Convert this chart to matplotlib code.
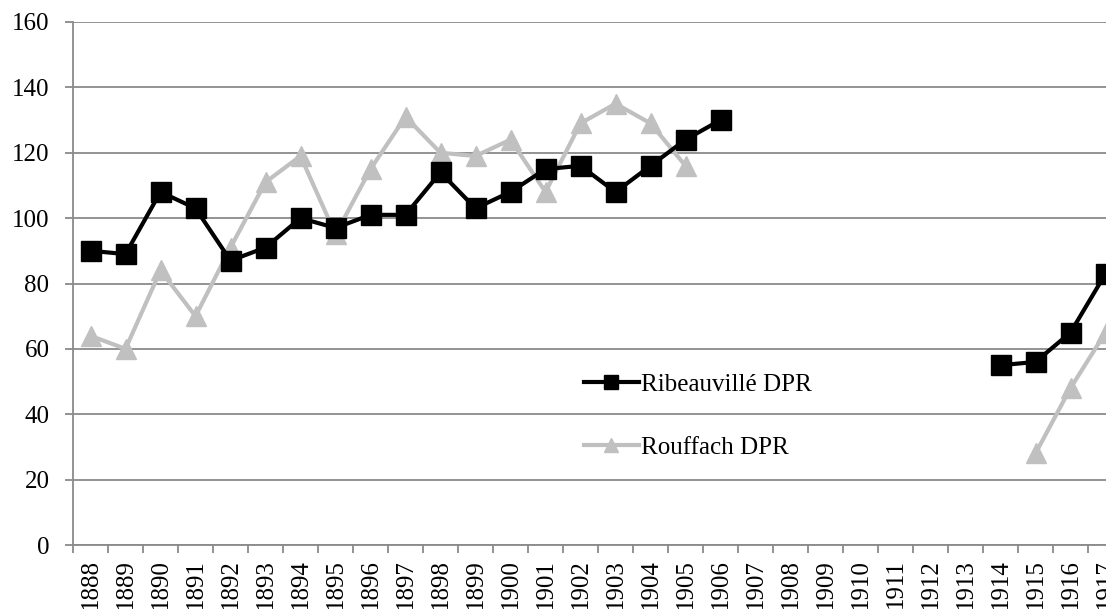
import numpy as np
from matplotlib import pyplot as plt

plt.rcParams['font.family'] = ['Liberation Serif', 'DejaVu Serif']

years = [str(y) for y in range(1888, 1918)]
nan = np.nan

ribeauville = [90, 89, 108, 103, 87, 91, 100, 97, 101, 101,
               114, 103, 108, 115, 116, 108, 116, 124, 130,
               nan, nan, nan, nan, nan, nan, nan,
               55, 56, 65, 83]
rouffach = [64, 60, 84, 70, 91, 111, 119, 95, 115, 131,
            120, 119, 124, 108, 129, 135, 129, 116,
            nan, nan, nan, nan, nan, nan, nan, nan, nan,
            28, 48, 65]

fig = plt.figure(figsize=(11.06, 6.09), dpi=100)
# the plot area runs past the right edge, as in the original
ax = fig.add_axes([73 / 1106, 64 / 609, 1050 / 1106, 523 / 609])

x = np.arange(len(years))
ax.plot(x, ribeauville, color='black', lw=3, marker='s', ms=14,
        label='Ribeauvillé DPR', zorder=3)
ax.plot(x, rouffach, color='#c0c0c0', lw=3, marker='^', ms=14,
        label='Rouffach DPR', zorder=2)

ax.set_xlim(-0.5, len(years) - 0.5)
ax.set_ylim(0, 160)
ax.set_yticks(range(0, 161, 20))
ax.yaxis.grid(True, color='#8a8a8a', lw=1.3)
ax.set_axisbelow(True)

ax.set_xticks(x)
ax.set_xticklabels(years, rotation=90, fontsize=18)
ax.set_xticks(np.arange(-0.5, len(years), 1), minor=True)
ax.tick_params(axis='x', which='major', length=0, pad=10)
ax.tick_params(axis='x', which='minor', length=6, color='#8a8a8a', width=1.3)
ax.tick_params(axis='y', length=6, color='#8a8a8a', width=1.3, labelsize=18, pad=11)

for side in ['top', 'right']:
    ax.spines[side].set_visible(False)
for side in ['left', 'bottom']:
    ax.spines[side].set_color('#8a8a8a')
    ax.spines[side].set_linewidth(1.3)

ax.legend(loc='center left', bbox_to_anchor=(561 / 1106, 1 - 416 / 609),
          bbox_transform=fig.transFigure, frameon=False, fontsize=18,
          handlelength=2.2, handletextpad=0.1, labelspacing=1.6,
          markerscale=0.7)

fig.savefig('out.png', dpi=100)
